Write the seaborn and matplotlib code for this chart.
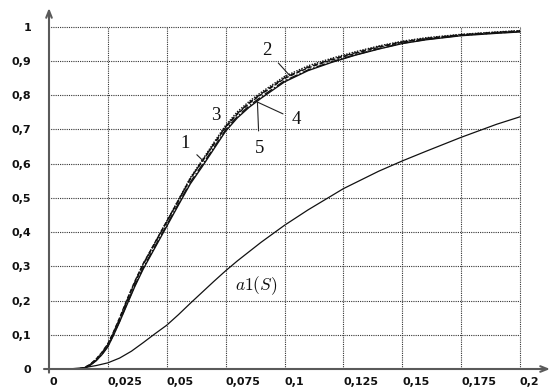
import numpy as np
import matplotlib
matplotlib.use("Agg")
import matplotlib.pyplot as plt
import seaborn as sns

# abscissa shared by the five close curves
s = [0, 0.012, 0.015, 0.0175, 0.02, 0.0225, 0.025, 0.0275, 0.03, 0.0333, 0.0365, 0.04,
     0.044, 0.048, 0.052, 0.056, 0.06, 0.065, 0.07, 0.075, 0.08, 0.085, 0.09, 0.1,
     0.11, 0.12, 0.13, 0.14, 0.15, 0.16, 0.175, 0.19, 0.2]
curve1 = [0, 0, .004, .014, .029, .049, .074, .110, .150, .206, .257, .308, .357, .407, .456, .506,
          .556, .606, .656, .706, .745, .776, .802, .849, .880, .903, .922, .940, .955, .965, .976, .983, .987]
curve2 = [0, 0, .003, .013, .028, .048, .072, .108, .148, .204, .256, .307, .357, .407, .457, .508,
          .559, .610, .662, .712, .752, .782, .808, .855, .886, .908, .927, .944, .958, .968, .978, .985, .989]
curve3 = [0, 0, .003, .013, .027, .047, .071, .107, .146, .202, .253, .305, .355, .405, .455, .505,
          .556, .607, .658, .708, .747, .778, .804, .851, .882, .905, .924, .942, .956, .966, .977, .984, .988]
curve4 = [0, 0, .002, .011, .024, .042, .065, .100, .138, .191, .242, .292, .342, .392, .442, .492,
          .541, .591, .643, .695, .734, .765, .791, .839, .872, .896, .917, .935, .951, .962, .974, .981, .985]
curve5 = [0, 0, .002, .011, .025, .043, .067, .102, .140, .194, .245, .296, .346, .396, .446, .496,
          .546, .596, .647, .699, .738, .769, .795, .842, .874, .898, .918, .936, .952, .963, .975, .982, .986]

# the lower curve a1(S)
s_a1 = [0, 0.005, 0.01, 0.015, 0.02, 0.025, 0.03, 0.035, 0.04, 0.045, 0.05, 0.055, 0.06, 0.065,
        0.07, 0.075, 0.08, 0.09, 0.1, 0.11, 0.125, 0.14, 0.15, 0.16, 0.175, 0.19, 0.2]
a1 = [0, 0, 0.001, 0.004, 0.01, 0.018, 0.032, 0.052, 0.077, 0.103, 0.128, 0.159, 0.192, 0.224,
      0.256, 0.287, 0.316, 0.37, 0.42, 0.465, 0.527, 0.578, 0.608, 0.636, 0.677, 0.715, 0.737]

curve_names = ["1", "2", "3", "4", "5"]
x_ticks = [0, 0.025, 0.05, 0.075, 0.1, 0.125, 0.15, 0.175, 0.2]
x_labels = ["0", "0,025", "0,05", "0,075", "0,1", "0,125", "0,15", "0,175", "0,2"]
y_ticks = [0, 0.1, 0.2, 0.3, 0.4, 0.5, 0.6, 0.7, 0.8, 0.9, 1]
y_labels = ["0", "0,1", "0,2", "0,3", "0,4", "0,5", "0,6", "0,7", "0,8", "0,9", "1"]

sns.set_style("white")
plt.rcParams["font.family"] = ["DejaVu Sans"]
plt.rcParams["mathtext.fontset"] = "cm"

fig = plt.figure(figsize=(5.53, 3.9), dpi=100)
ax = fig.add_axes([49 / 553, 21 / 390, 501 / 553, 361 / 390])
ax.set_xlim(0, 0.2 * 501 / 471)
ax.set_ylim(0, 361 / 342.2)

# dotted grid only inside 0..0.2 x 0..1
grid_kw = dict(colors="#333333", linestyles=(0, (1, 1)), linewidth=0.8, zorder=1)
ax.hlines(y_ticks[1:], -0.002, 0.2, **grid_kw)
ax.vlines(x_ticks[1:], 0, 1, **grid_kw)

styles = [(0, (3, 1.5)), (0, (1, 1)), (0, (4, 2)), "-", "-."]
for yy, ls in zip([curve1, curve2, curve3, curve4, curve5], styles):
    sns.lineplot(x=s, y=yy, ax=ax, color="#111111", linestyle=ls, linewidth=1.0, zorder=3)
sns.lineplot(x=s_a1, y=a1, ax=ax, color="#111111", linewidth=0.9, zorder=3)

# curve numbers with leader lines
notes = [("1", (0.0577, 0.66), (0.0655, 0.608)),
         ("2", (0.0924, 0.932), (0.1023, 0.857)),
         ("3", (0.0709, 0.742), (0.0775, 0.72)),
         ("4", (0.1049, 0.728), (0.0885, 0.78)),
         ("5", (0.0893, 0.645), (0.0885, 0.78))]
for name, txt, pt in notes:
    ax.annotate(name, xy=pt, xytext=txt, ha="center", va="center",
                fontsize=13.5, family="Liberation Serif", color="#111111",
                arrowprops=dict(arrowstyle="-", color="#222222", lw=0.8,
                                shrinkA=4, shrinkB=0))
ax.text(0.079, 0.244, r"$a1(S)$", fontsize=12.5, ha="left", va="center", color="#111111")

# axes with arrows
for sp in ["top", "right", "left", "bottom"]:
    ax.spines[sp].set_visible(False)
ax_col = "#5a5a5a"
ax.annotate("", xy=(1.0, 0), xytext=(-0.01, 0), xycoords="axes fraction",
            arrowprops=dict(arrowstyle="->,head_length=0.5,head_width=0.2", color=ax_col, lw=1.5,
                            shrinkA=0, shrinkB=0))
ax.annotate("", xy=(0, 1.0), xytext=(0, -0.01), xycoords="axes fraction",
            arrowprops=dict(arrowstyle="->,head_length=0.5,head_width=0.2", color=ax_col, lw=1.5,
                            shrinkA=0, shrinkB=0))

ax.set_xticks(x_ticks, x_labels)
ax.set_yticks(y_ticks, y_labels)
ax.tick_params(axis="x", length=0, pad=6, labelsize=8, labelcolor="#111111")
ax.tick_params(axis="y", length=0, pad=13, labelsize=8, labelcolor="#111111")
for lab in ax.get_xticklabels():
    lab.set_ha("left")
    lab.set_fontweight("bold")
for lab in ax.get_yticklabels():
    lab.set_fontweight("bold")
ax.set_xlabel("")
ax.set_ylabel("")

fig.savefig("out.png", dpi=100)
